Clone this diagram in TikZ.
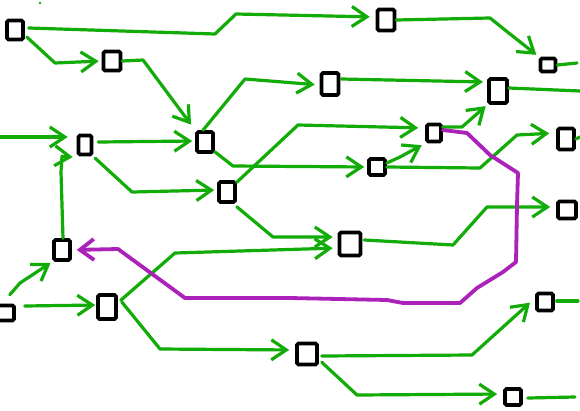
\documentclass[tikz,border=0pt]{standalone}
\usetikzlibrary{arrows.meta}
\definecolor{gr}{RGB}{18,172,8}
\definecolor{pu}{RGB}{170,34,185}
\begin{document}
\begin{tikzpicture}[x=1pt,y=-1pt,
  box/.style={draw=black,line width=3.6pt,fill=white,rounded corners=1.5pt,inner sep=0pt},
  gl/.style={draw=gr,line width=3.2pt,line cap=round,line join=round},
  ga/.style={gl,-{Straight Barb[length=15pt,width=20pt]},shorten >=3pt},
  pa/.style={draw=pu,line width=3.8pt,line cap=round,line join=round,-{Straight Barb[length=14pt,width=21pt]},shorten >=5pt}]
\useasboundingbox (0,0) rectangle (580,410);
\fill[white] (0,0) rectangle (580,410);
% nodes
\node[box,minimum width=16pt,minimum height=19pt] (A) at (15,30) {};
\node[box,minimum width=17pt,minimum height=19pt] (B) at (112,61) {};
\node[box,minimum width=17pt,minimum height=21pt] (C) at (386,20) {};
\node[box,minimum width=15pt,minimum height=13pt] (D) at (548,65) {};
\node[box,minimum width=17pt,minimum height=22pt] (E) at (330,84) {};
\node[box,minimum width=18pt,minimum height=24pt] (F) at (498,91) {};
\node[box,minimum width=13pt,minimum height=19pt] (G) at (85,145) {};
\node[box,minimum width=16pt,minimum height=20pt] (H) at (205,142) {};
\node[box,minimum width=14pt,minimum height=17pt] (I) at (434,133) {};
\node[box,minimum width=16pt,minimum height=21pt] (J) at (566,139) {};
\node[box,minimum width=16pt,minimum height=16pt] (K) at (377,167) {};
\node[box,minimum width=16pt,minimum height=20pt] (L) at (227,192) {};
\node[box,minimum width=18pt,minimum height=17pt] (M) at (567,210) {};
\node[box,minimum width=16pt,minimum height=20pt] (N) at (62,250) {};
\node[box,minimum width=21pt,minimum height=23pt] (O) at (350,244) {};
\node[box,minimum width=18pt,minimum height=15pt] (P) at (5,313) {};
\node[box,minimum width=18pt,minimum height=24pt] (Q) at (107,307) {};
\node[box,minimum width=16pt,minimum height=17pt] (R) at (545,302) {};
\node[box,minimum width=20pt,minimum height=21pt] (S) at (307,354) {};
\node[box,minimum width=16pt,minimum height=16pt] (T) at (513,397) {};
\coordinate (g0) at (0,137);
\coordinate (dx) at (577,63);
\coordinate (fx) at (580,91);
\coordinate (jx) at (580,137);
\coordinate (rx) at (578,301);
\coordinate (tx) at (575,397);
% green connectors
\fill[gr] (40,3) circle (1.3pt);
\draw[ga,shorten >=6pt] ([xshift=4pt,yshift=2pt]A.east) -- (215,34) -- (236,14) -- ([yshift=3pt]C.west);
\draw[ga] ([xshift=2pt,yshift=-7pt]A.east) -- (55,63) -- (B.west);
\draw[ga,shorten >=7pt] (B.east) -- (143,60) -- (H.north west);
\draw[ga] (C.east) -- (490,18) -- (505,30) -- (D.north west);
\draw[gl] (D.east) -- (dx);
\draw[ga,shorten >=9pt] (g0) -- ([yshift=8pt]G.west);
\draw[ga] ([xshift=5pt,yshift=3pt]G.east) -- ([yshift=1pt]H.west);
\draw[ga] ([xshift=2pt,yshift=-2pt]G.south east) -- (132,192) -- ([yshift=2pt]L.west);
\draw[ga,shorten >=5pt] ([xshift=-2pt]H.north) -- (245,79) -- ([yshift=-1pt]E.west);
\draw[ga,shorten >=2pt] ([xshift=1pt,yshift=5pt]E.east) -- (485,82);
\draw[gl] ([yshift=3pt]F.east) -- (fx);
\draw[ga] ([yshift=2pt]H.south east) -- (233,166) -- (K.west);
\draw[ga,shorten >=7pt] ([yshift=-2pt]L.north east) -- (298,125) -- ([yshift=5pt]I.west);
\draw[ga,shorten >=4pt] ([yshift=4pt]K.east) -- (400,157) -- (I.south west);
\draw[ga,shorten >=2pt] ([yshift=6pt]I.east) -- (462,127) -- (F.south west);
\draw[ga,shorten >=7pt] (K.east) -- (480,168) -- (517,135) -- ([yshift=6pt]J.west);
\draw[gl] (J.east) -- (jx);
\draw[ga,shorten >=5pt] ([yshift=-3pt]L.south east) -- (273,237) -- ([yshift=7pt]O.west);
\draw[ga,shorten >=5pt] ([xshift=3pt,yshift=-7pt]Q.north east) -- (175,253) -- ([yshift=-4pt]O.west);
\draw[ga,shorten >=6pt] ([xshift=2pt,yshift=4pt]O.east) -- (453,245) -- (487,207) -- ([yshift=3pt]M.west);
\draw[ga,shorten >=4pt] ([xshift=1pt]N.north) -- (62,205) -- (61,172) -- (N.north |- G.south) -- ([yshift=-1pt]G.south west);
\draw[ga,shorten >=2pt] ([xshift=-6pt,yshift=9pt]P.north east) -- (20,283) -- (N.south west);
\draw[ga,shorten >=1pt] ([xshift=9pt,yshift=7pt]P.east) -- ([yshift=2pt]Q.west);
\draw[ga,shorten >=6pt] ([xshift=4pt,yshift=5pt]Q.east) -- (160,349) -- ([yshift=4pt]S.west);
\draw[ga,shorten >=7pt] ([xshift=3pt,yshift=-2pt]S.east) -- (472,355) -- ([yshift=4pt]R.west);
\draw[gl] ([xshift=2pt,yshift=1pt]R.east) -- (rx);
\draw[ga,shorten >=6pt] ([xshift=3pt,yshift=4pt]S.south east) -- (357,395) -- ([yshift=3pt]T.west);
\draw[gl] ([xshift=5pt,yshift=-1pt]T.east) -- (tx);
% purple connector
\draw[pa] ([yshift=3pt]I.east) -- (467,133) -- (490,155) -- (518,173) -- (517,205) -- (516,262) -- (503,272) -- (477,288) -- (460,303) -- (403,303) -- (387,300) -- (290,298) -- (185,298) -- (118,249) -- (N.east);
\end{tikzpicture}
\end{document}
